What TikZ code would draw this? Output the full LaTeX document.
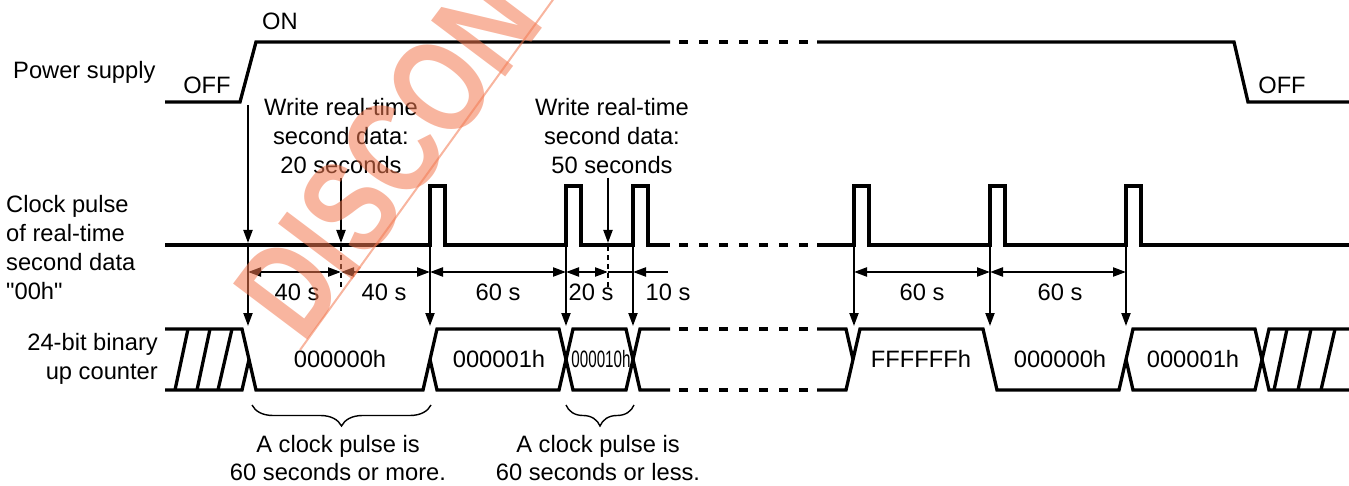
\documentclass[tikz,border=0pt]{standalone}
\usepackage{fontspec}
\setmainfont{Liberation Sans}[Ligatures=TeXOff]
\usetikzlibrary{arrows.meta,decorations.pathreplacing}
\definecolor{wm}{RGB}{242,120,80}
\begin{document}
\begin{tikzpicture}[x=1pt,y=-1pt,
  sig/.style={line width=3.3pt, line join=miter},
  gapdash/.style={line width=3.3pt, dash pattern=on 9pt off 11pt},
  arr/.style={line width=2pt, -{Triangle[length=13pt,width=9pt]}},
  dimarr/.style={line width=2.2pt, {Triangle[length=13pt,width=9pt]}-{Triangle[length=13pt,width=9pt]}},
  dimone/.style={line width=2.2pt, -{Triangle[length=13pt,width=9pt]}},
  dimline/.style={line width=2.2pt},
  vdash/.style={line width=1.8pt, dash pattern=on 5pt off 4pt},
  bracestyle/.style={line width=1.4pt, decorate, decoration={brace, amplitude=21pt}},
  lbl/.style={font=\fontsize{23.7}{29}\selectfont, inner sep=0pt},
  lblb/.style={font=\fontsize{23.7}{28}\selectfont, inner sep=0pt},
]
\useasboundingbox (0,0) rectangle (1349,486);
\def\T{329}\def\B{390}\def\M{359.5}

% ---------- labels on the left ----------
\node[lbl, anchor=west] (ps) at (13,72) {Power supply};
\node[lbl, anchor=west, align=left] (ck) at (6,248) {Clock pulse\\of real-time\\second data\\"00h"};
\node[lbl, anchor=east, align=right] (ct) at (158,359) {24-bit binary\\up counter};

% ---------- power supply ----------
\draw[sig] (165,102) -- (240,102) -- (256,42) -- (670,42);
\draw[gapdash] (679,42) -- (808,42);
\draw[sig] (817,42) -- (1234,42) -- (1248,102) -- (1349,102);
\node[lbl] (on) at (280,21) {ON};
\node[lbl] (offl) at (207,85) {OFF};
\node[lbl] (offr) at (1282,85) {OFF};

% ---------- clock pulse ----------
\draw[sig] (165,245) -- (430,245) -- (430,186) -- (445,186) -- (445,245)
  -- (566,245) -- (566,186) -- (581,186) -- (581,245)
  -- (633,245) -- (633,186) -- (648,186) -- (648,245) -- (670,245);
\draw[gapdash] (679,245) -- (808,245);
\draw[sig] (817,245) -- (854,245) -- (854,186) -- (869,186) -- (869,245)
  -- (990,245) -- (990,186) -- (1005,186) -- (1005,245)
  -- (1126,245) -- (1126,186) -- (1141,186) -- (1141,245) -- (1349,245);

% ---------- counter bus ----------
\draw[sig] (165,\T) -- (242,\T) -- (256,\B) -- (423,\B) -- (437,\T) -- (559,\T)
  -- (573,\B) -- (626,\B) -- (640,\T) -- (670,\T);
\draw[sig] (165,\B) -- (242,\B) -- (249,\M);
\draw[sig] (430,\M) -- (437,\B) -- (559,\B) -- (573,\T) -- (626,\T) -- (640,\B) -- (670,\B);
\draw[sig] (175,\B) -- (188,\T);
\draw[sig] (197,\B) -- (210,\T);
\draw[sig] (218,\B) -- (232,\T);
\draw[gapdash] (679,\T) -- (808,\T);
\draw[gapdash] (679,\B) -- (808,\B);
\draw[sig] (817,\T) -- (846,\T) -- (853,\M);
\draw[sig] (817,\B) -- (846,\B) -- (860,\T) -- (983,\T) -- (997,\B) -- (1119,\B)
  -- (1133,\T) -- (1255,\T) -- (1269,\B) -- (1349,\B);
\draw[sig] (1126,\M) -- (1133,\B) -- (1255,\B) -- (1269,\T) -- (1349,\T);
\draw[sig] (1274,\B) -- (1287,\T);
\draw[sig] (1298,\B) -- (1311,\T);
\draw[sig] (1321,\B) -- (1335,\T);

\node[lbl] (c0) at (340,359) {000000h};
\node[lbl] (c1) at (499,359) {000001h};
\node[lbl] (c2) at (601,359) {\scalebox{0.64}[1]{000010h}};
\node[lbl] (c3) at (921,359) {FFFFFFh};
\node[lbl] (c4) at (1060,359) {000000h};
\node[lbl] (c5) at (1193,359) {000001h};

% ---------- write annotations ----------
\node[lbl, align=center] (w1) at (341,136) {Write real-time\\second data:\\20 seconds};
\node[lbl, align=center] (w2) at (612,136) {Write real-time\\second data:\\50 seconds};

% ---------- coordinates ----------
\coordinate (p0) at (248,105);
\coordinate (k0) at (248,243);
\coordinate (b0) at (248,326);
\coordinate (w1a) at (341,178);
\coordinate (w1k) at (341,243);
\coordinate (w2a) at (608,178);
\coordinate (w2k) at (608,243);
\foreach \x/\n in {430/a,566/b,633/c,854/d,990/e,1126/f}{
  \coordinate (k\n) at (\x,245);
  \coordinate (b\n) at (\x,326);
  \coordinate (d\n) at (\x,272);
}
\coordinate (d0) at (248,272);
\coordinate (dw1) at (341,272);
\coordinate (dw2) at (608,272);
\coordinate (dend) at (668,272);

% ---------- vertical arrows ----------
\draw[arr] (p0) -- (k0);
\draw[line width=2pt] (k0) -- (248,246);
\draw[arr] (248,245) -- (b0);
\draw[arr] (w1a) -- (w1k);
\draw[arr] (w2a) -- (w2k);
\foreach \n in {a,b,c,d,e,f}{
  \draw[arr] (k\n) -- (b\n);
}
\draw[vdash] (341,246) -- (341,288);
\draw[vdash] (608,246) -- (608,288);

% ---------- dimensions ----------
\draw[dimarr] (d0) -- (dw1);
\draw[dimarr] (dw1) -- (da);
\draw[dimarr] (da) -- (db);
\draw[dimarr] (db) -- (dw2);
\draw[dimline] (dw2) -- (dc);
\draw[dimone] (dend) -- (dc);
\draw[dimarr] (dd) -- (de);
\draw[dimarr] (de) -- (df);

\node[lbl] (t1) at (297,292) {40 s};
\node[lbl] (t2) at (384,292) {40 s};
\node[lbl] (t3) at (498,292) {60 s};
\node[lbl] (t4) at (591,292) {20 s};
\node[lbl] (t5) at (668,292) {10 s};
\node[lbl] (t6) at (922,292) {60 s};
\node[lbl] (t7) at (1060,292) {60 s};

% ---------- braces ----------
\draw[bracestyle] (431,405) -- (252,405);
\draw[bracestyle] (634,405) -- (566,405);
\node[lblb, align=center] (n1) at (338,458) {A clock pulse is\\60 seconds or more.};
\node[lblb, align=center] (n2) at (598,458) {A clock pulse is\\60 seconds or less.};

% ---------- watermark ----------
\begin{scope}
\clip (0,0) rectangle (1349,486);
\node[text=wm, opacity=0.55, rotate=53, inner sep=0pt,
  font=\fontsize{135}{135}\bfseries\selectfont] (wmk) at (388,156) {\scalebox{0.77}[1]{DISCON}};
\draw[wm, opacity=0.55, line width=2pt] (300,350) -- (560,-10);
\end{scope}
\end{tikzpicture}
\end{document}
